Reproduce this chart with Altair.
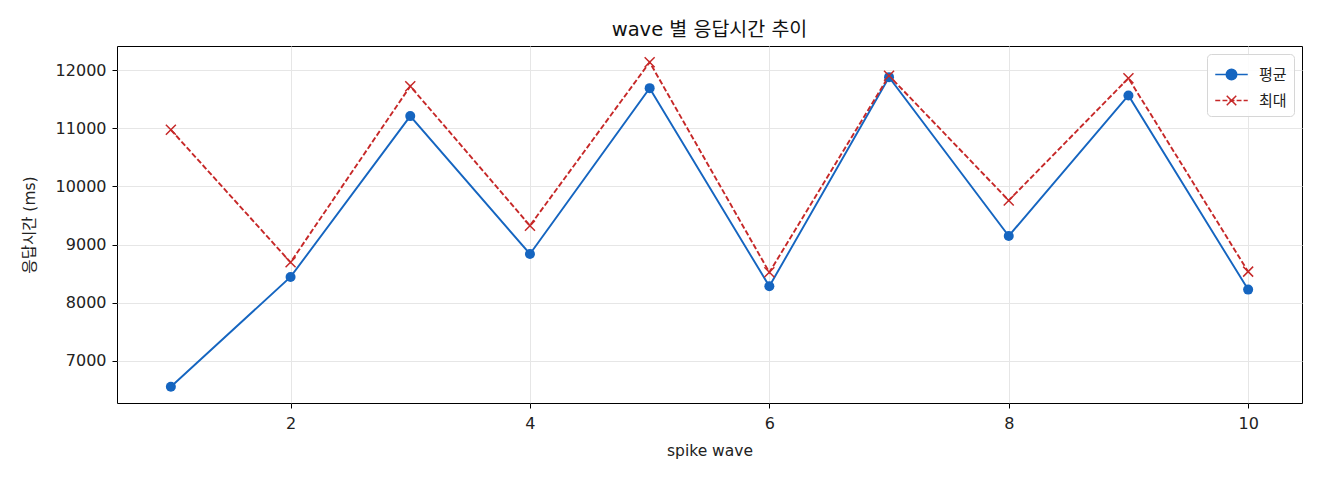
import altair as alt
import pandas as pd

# spike wave 1..10, 응답시간 (ms)
waves = [1, 2, 3, 4, 5, 6, 7, 8, 9, 10]
mean_ms = [6553, 8443, 11210, 8838, 11691, 8282, 11880, 9148, 11565, 8225]
max_ms = [10974, 8694, 11725, 9325, 12137, 8522, 11905, 9759, 11862, 8534]
series_names = ["평균", "최대"]

BLUE = "#1565c0"
RED = "#c62828"
FONT = "DejaVu Sans, 'Noto Sans CJK KR', sans-serif"

X_MARK = "M-1,-1L1,1M-1,1L1,-1"
LEGEND_MEAN = "M-1.3,0H1.3M-0.42,0A0.42,0.42 0 1,1 0.42,0A0.42,0.42 0 1,1 -0.42,0Z"
LEGEND_MAX = (
    "M-1.3,0H-0.9M-0.72,0H-0.33M-0.16,0H0.24M0.41,0H0.8M0.97,0H1.3"
    "M-0.38,-0.38L0.38,0.38M-0.38,0.38L0.38,-0.38"
)

df = pd.concat(
    [
        pd.DataFrame({"wave": waves, "ms": mean_ms, "series": series_names[0]}),
        pd.DataFrame({"wave": waves, "ms": max_ms, "series": series_names[1]}),
    ],
    ignore_index=True,
)

x_enc = alt.X(
    "wave:Q",
    title="spike wave",
    scale=alt.Scale(domain=[0.55, 10.45], nice=False, zero=False),
    axis=alt.Axis(values=[2, 4, 6, 8, 10], format="d", labelPadding=7, titlePadding=12),
)
y_enc = alt.Y(
    "ms:Q",
    title="응답시간 (ms)",
    scale=alt.Scale(domain=[6274, 12416], nice=False, zero=False),
    axis=alt.Axis(values=[7000, 8000, 9000, 10000, 11000, 12000], format="d", labelPadding=6, titlePadding=18),
)

base = alt.Chart(df)
is_mean = alt.datum.series == series_names[0]
is_max = alt.datum.series == series_names[1]

mean_line = base.transform_filter(is_mean).mark_line(color=BLUE, strokeWidth=1.9).encode(x=x_enc, y=y_enc)
max_line = (
    base.transform_filter(is_max)
    .mark_line(color=RED, strokeWidth=1.9, strokeDash=[5.5, 2.4])
    .encode(x=x_enc, y=y_enc)
)
mean_pts = (
    base.transform_filter(is_mean)
    .mark_point(shape="circle", filled=True, size=100, color=BLUE, opacity=1)
    .encode(x=x_enc, y=y_enc)
)
max_pts = (
    base.transform_filter(is_max)
    .mark_point(shape=X_MARK, filled=False, size=100, color=RED, strokeWidth=1.5, opacity=1)
    .encode(x=x_enc, y=y_enc)
)

legend = alt.Legend(
    title=None,
    orient="top-right",
    offset=8,
    symbolSize=625,
    symbolStrokeWidth=1.5,
    symbolOffset=4,
    labelFont=FONT,
    labelFontSize=15,
    labelColor="#222222",
    labelOffset=14,
    rowPadding=4,
    padding=7,
    strokeColor="#d6d6d6",
    fillColor="rgba(255,255,255,0.85)",
    cornerRadius=4,
)
legend_layer = (
    base.transform_filter("false")
    .mark_point(opacity=1, strokeWidth=1.5)
    .encode(
        shape=alt.Shape("series:N", scale=alt.Scale(domain=series_names, range=[LEGEND_MEAN, LEGEND_MAX]), legend=legend),
        fill=alt.Fill("series:N", scale=alt.Scale(domain=series_names, range=[BLUE, RED]), legend=legend),
        stroke=alt.Stroke("series:N", scale=alt.Scale(domain=series_names, range=[BLUE, RED]), legend=legend),
    )
)

chart = (
    alt.layer(mean_line, max_line, mean_pts, max_pts, legend_layer)
    .properties(
        width=1185,
        height=357,
        title=alt.TitleParams("wave 별 응답시간 추이", font=FONT, fontSize=19.5, fontWeight="normal", color="#111111", offset=6),
        autosize=alt.AutoSizeParams(type="none"),
        padding={"left": 109, "top": 38, "right": 10, "bottom": 69},
    )
    .configure_view(stroke="black", strokeWidth=1)
    .configure_axis(
        labelFont=FONT,
        labelFontSize=16,
        labelColor="#222222",
        titleFont=FONT,
        titleFontSize=15.5,
        titleFontWeight="normal",
        titleColor="#222222",
        domain=False,
        tickColor="black",
        tickSize=5,
        gridColor="#e6e6e6",
        gridWidth=1,
    )
)

chart.save("out.html", embed_options={"renderer": "svg", "actions": False})
